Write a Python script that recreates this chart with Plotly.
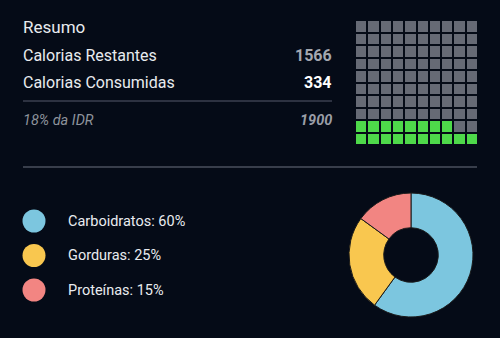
import plotly.graph_objects as go

# ---- data ----
summary_title = "Resumo"
row_labels = ["Calorias Restantes", "Calorias Consumidas"]
row_values = [1566, 334]
idr_label = "18% da IDR"
idr_total = 1900

macro_names = ["Carboidratos", "Gorduras", "Proteínas"]
macro_pcts = [60, 25, 15]
macro_colors = ["#7cc6df", "#f9c74f", "#f28582"]

BG = "#050b17"
FONT = "Roboto"

# waffle grid (10x10) from consumed share of total
consumed = row_values[1]
pct_filled = round(consumed / idr_total * 100)
z = []
for r in range(10):  # r=0 bottom row
    row = []
    for c in range(10):
        idx = r * 10 + c
        row.append(1 if idx < pct_filled else 0)
    z.append(row)

fig = go.Figure()

# waffle heatmap
fig.add_trace(go.Heatmap(
    z=z, x=list(range(10)), y=list(range(10)),
    colorscale=[[0, "#666a75"], [0.5, "#666a75"], [0.5, "#4ed94a"], [1, "#4ed94a"]],
    zmin=0, zmax=1, showscale=False, xgap=2, ygap=2, hoverinfo="skip",
    xaxis="x2", yaxis="y2"))

# donut
fig.add_trace(go.Pie(
    labels=macro_names, values=macro_pcts, hole=0.44, sort=False,
    direction="clockwise", rotation=0,
    marker=dict(colors=macro_colors, line=dict(color="#1a1a1a", width=1)),
    textinfo="none", showlegend=False, hoverinfo="label+percent",
    domain=dict(x=[349/500, 473/500], y=[1-317/338, 1-193/338])))

# legend circles
legend_y = [221, 255.5, 290]
fig.add_trace(go.Scatter(
    x=[34]*3, y=legend_y, mode="markers",
    marker=dict(size=23, color=macro_colors, line=dict(width=0)),
    showlegend=False, hoverinfo="skip", xaxis="x", yaxis="y"))

ann = []
def txt(x, y, s, size=15, color="#e9ebef", anchor="left", bold=False, italic=False):
    if bold:
        s = "<b>" + s + "</b>"
    if italic:
        s = "<i>" + s + "</i>"
    ann.append(dict(x=x, y=y, xref="x", yref="y", text=s, showarrow=False,
                    xanchor=anchor, yanchor="middle",
                    font=dict(family=FONT, size=size, color=color)))

txt(21, 27, summary_title, size=17)
txt(21, 55, row_labels[0], size=16)
txt(334, 55, str(row_values[0]), size=16, color="#a3a7b0", anchor="right", bold=True)
txt(21, 82, row_labels[1], size=16)
txt(334, 82, str(row_values[1]), size=16, color="#ffffff", anchor="right", bold=True)
txt(21, 120, idr_label, size=14.5, color="#8e939c", italic=True)
txt(334, 120, str(idr_total), size=14.5, color="#9a9ea7", anchor="right", bold=True, italic=True)

for yy, n, p in zip(legend_y, macro_names, macro_pcts):
    txt(66, yy, f"{n}: {p}%", size=14.5, color="#e9ebef")

shapes = [
    dict(type="line", xref="x", yref="y", x0=23, x1=332, y0=101, y1=101,
         line=dict(color="#3b4150", width=1.5)),
    dict(type="line", xref="x", yref="y", x0=23, x1=477, y0=167, y1=167,
         line=dict(color="#4a505e", width=1.5)),
]

fig.update_layout(
    width=500, height=338, margin=dict(l=0, r=0, t=0, b=0),
    paper_bgcolor=BG, plot_bgcolor="rgba(0,0,0,0)",
    xaxis=dict(range=[0, 500], domain=[0, 1], visible=False, fixedrange=True),
    yaxis=dict(range=[338, 0], domain=[0, 1], visible=False, fixedrange=True),
    xaxis2=dict(range=[-0.5, 9.5], domain=[355/500, 478/500], visible=False, anchor="y2"),
    yaxis2=dict(range=[-0.5, 9.5], domain=[1-145/338, 1-20/338], visible=False, anchor="x2"),
    annotations=ann, shapes=shapes, showlegend=False,
)

fig.write_html("out.html")
